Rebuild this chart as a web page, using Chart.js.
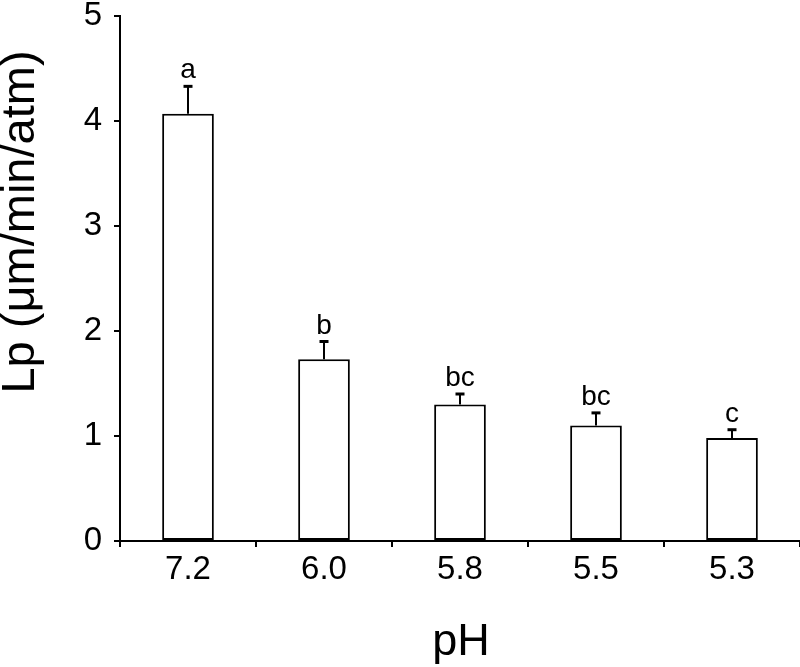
<!DOCTYPE html>
<html lang="en">
<head>
  <meta charset="UTF-8">
  <title>Lp vs pH</title>
  <script src="https://cdn.jsdelivr.net/npm/chart.js"></script>
  <style>
    body {
      margin: 0;
      background: #fff;
    }
    .chart-container {
      width: 800px;
      height: 667px;
      position: relative;
    }
  </style>
</head>
<body>

  <div class="chart-container">
    <canvas id="lpChart"></canvas>
  </div>

  <script>
    const phLabels = ['7.2', '6.0', '5.8', '5.5', '5.3'];
    const lpMeans = [4.07, 1.73, 1.30, 1.10, 0.98];
    const lpErrors = [0.26, 0.17, 0.10, 0.12, 0.08];
    const sigLetters = ['a', 'b', 'bc', 'bc', 'c'];
    const yTicks = [0, 1, 2, 3, 4, 5];

    const FONT = "'Liberation Sans', Arial, sans-serif";

    // error bars + letters above them
    const errorBars = {
      id: 'errorBars',
      afterDatasetsDraw(chart) {
        const c = chart.ctx;
        const meta = chart.getDatasetMeta(0);
        const y = chart.scales.y;
        c.save();
        c.strokeStyle = '#000';
        c.fillStyle = '#000';
        meta.data.forEach((bar, i) => {
          const yTop = y.getPixelForValue(lpMeans[i]);
          const yErr = y.getPixelForValue(lpMeans[i] + lpErrors[i]);
          c.lineWidth = 2;
          c.beginPath();
          c.moveTo(bar.x, yTop);
          c.lineTo(bar.x, yErr);
          c.stroke();
          c.lineWidth = 3;
          c.beginPath();
          c.moveTo(bar.x - 4.5, yErr);
          c.lineTo(bar.x + 4.5, yErr);
          c.stroke();
          c.font = '28px ' + FONT;
          c.textAlign = 'center';
          c.textBaseline = 'alphabetic';
          c.fillText(sigLetters[i], bar.x, yErr - 8);
        });
        c.restore();
      }
    };

    // axis titles
    const axisTitles = {
      id: 'axisTitles',
      afterDraw(chart) {
        const c = chart.ctx;
        const area = chart.chartArea;
        c.save();
        c.fillStyle = '#000';
        c.textAlign = 'center';
        c.textBaseline = 'alphabetic';
        c.font = '45px ' + FONT;
        c.fillText('pH', (area.left + area.right) / 2 + 1, 655);
        c.font = '47px ' + FONT;
        c.translate(34, 222);
        c.rotate(-Math.PI / 2);
        c.fillText('Lp (μm/min/atm)', 0, 0);
        c.restore();
      }
    };

    const ctx = document.getElementById('lpChart').getContext('2d');
    new Chart(ctx, {
      type: 'bar',
      data: {
        labels: phLabels,
        datasets: [{
          data: lpMeans,
          backgroundColor: '#fff',
          borderColor: '#000',
          borderWidth: 2,
          borderSkipped: false,
          barPercentage: 0.38,
          categoryPercentage: 1
        }]
      },
      options: {
        responsive: true,
        maintainAspectRatio: false,
        animation: false,
        layout: { padding: { top: 16, right: 0, left: 0, bottom: 0 } },
        plugins: {
          legend: { display: false },
          tooltip: { enabled: false }
        },
        scales: {
          x: {
            afterFit(scale) {
              scale.height = 126;
              scale.paddingLeft = 0;
              scale.paddingRight = 0;
            },
            border: { display: true, color: '#000', width: 2 },
            grid: {
              drawOnChartArea: false,
              drawTicks: true,
              tickLength: 6,
              color: '#000',
              lineWidth: 2
            },
            ticks: {
              color: '#000',
              padding: 6,
              font: { family: FONT, size: 33, lineHeight: 1 }
            }
          },
          y: {
            min: 0,
            max: 5,
            afterFit(scale) {
              scale.width = 120;
              scale.paddingTop = 0;
              scale.paddingBottom = 0;
            },
            afterBuildTicks(scale) {
              scale.ticks = yTicks.map(v => ({ value: v }));
            },
            border: { display: true, color: '#000', width: 2 },
            grid: {
              drawOnChartArea: false,
              drawTicks: true,
              tickLength: 6,
              color: '#000',
              lineWidth: 2
            },
            ticks: {
              color: '#000',
              padding: 12,
              font: { family: FONT, size: 33, lineHeight: 1 }
            }
          }
        }
      },
      plugins: [errorBars, axisTitles]
    });
  </script>

</body>
</html>
